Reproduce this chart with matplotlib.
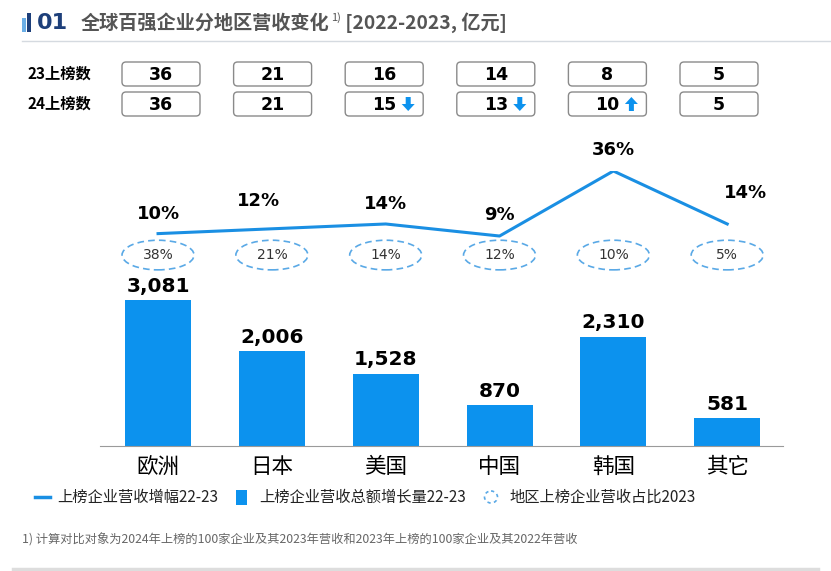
import matplotlib
matplotlib.use('Agg')
import matplotlib.pyplot as plt
from matplotlib.patches import FancyBboxPatch, Ellipse, Rectangle, FancyArrow
from matplotlib.lines import Line2D

plt.rcParams['font.family'] = ['Noto Sans CJK SC', 'DejaVu Sans']

# data
regions = ['欧洲', '日本', '美国', '中国', '韩国', '其它']
count_23 = [36, 21, 16, 14, 8, 5]
count_24 = [36, 21, 15, 13, 10, 5]
growth_pct = [10, 12, 14, 9, 36, 14]          # 上榜企业营收增幅22-23 (%)
revenue_increase = [3081, 2006, 1528, 870, 2310, 581]  # 亿元
share_2023 = [38, 21, 14, 12, 10, 5]           # 地区上榜企业营收占比2023 (%)

W, H = 831, 571
BLUE = '#0c92ee'
LINE_BLUE = '#1a8fe3'
NUM_FONT = 'DejaVu Sans'


def frac(left, top, right, bottom):
	# pixel box (origin top-left) -> figure fraction rect
	return [left / W, 1 - bottom / H, (right - left) / W, (bottom - top) / H]


def draw_header(ax):
	ax.add_patch(Rectangle((22, 18), 4, 14, color='#6aaee6', lw=0))
	ax.add_patch(Rectangle((27, 13), 4, 19, color='#1d3f7a', lw=0))
	ax.text(37, 23, '01', fontsize=16, fontweight='bold', color='#1d3f7a',
		va='center', family=[NUM_FONT])
	t1 = ax.text(81, 23, '全球百强企业分地区营收变化', fontsize=13.8,
		fontweight='bold', color='#555555', va='center')
	sup = ax.annotate('1)', xy=(1, 0.8), xycoords=t1, xytext=(0.8, 0),
		textcoords='offset points', fontsize=8, color='#555555', va='center')
	ax.annotate(' [2022-2023, 亿元]', xy=(1, 0.5), xycoords=(sup, t1),
		xytext=(0, 0), textcoords='offset points', fontsize=13.8,
		fontweight='bold', color='#555555', va='center')
	ax.add_line(Line2D([22, 831], [41, 41], color='#d5dae0', lw=1))


def draw_count_rows(ax):
	rows = [('23上榜数', count_23, 74), ('24上榜数', count_24, 104)]
	for label, counts, cy in rows:
		ax.text(28, cy, label, fontsize=11, fontweight='bold', va='center')
		for i, n in enumerate(counts):
			cx = 161 + 111.6 * i
			ax.add_patch(FancyBboxPatch((cx - 39, cy - 12), 78, 24,
				boxstyle='round,pad=0,rounding_size=4', fc='white',
				ec='#8a8a8a', lw=1))
			ax.text(cx, cy + 1, str(n), fontsize=12.5, fontweight='bold',
				ha='center', va='center', family=[NUM_FONT])
			if label.startswith('24') and n != count_23[i]:
				xa = cx + 24
				if n < count_23[i]:
					ax.add_patch(FancyArrow(xa, cy - 7, 0, 14, width=5,
						head_width=13, head_length=7, length_includes_head=True,
						color=BLUE, lw=0))
				else:
					ax.add_patch(FancyArrow(xa, cy + 7, 0, -14, width=5,
						head_width=13, head_length=7, length_includes_head=True,
						color=BLUE, lw=0))


def draw_legend(ax):
	y = 497
	ax.add_line(Line2D([35, 50], [y, y], color=LINE_BLUE, lw=2.5))
	ax.text(57, y, '上榜企业营收增幅22-23', fontsize=11, va='center', color='#222222')
	ax.add_patch(Rectangle((236, y - 7), 11, 15, color=BLUE, lw=0))
	ax.text(259, y, '上榜企业营收总额增长量22-23', fontsize=11, va='center', color='#222222')
	ax.add_patch(Ellipse((491, y), 13, 12, fill=False, ec='#5aa9e6', lw=1.2,
		ls=(0, (2, 2))))
	ax.text(509, y, '地区上榜企业营收占比2023', fontsize=11, va='center', color='#222222')


def draw_footer(ax):
	ax.text(22, 540, '1) 计算对比对象为2024年上榜的100家企业及其2023年营收和2023年上榜的100家企业及其2022年营收',
		fontsize=8.8, va='center', color='#666666')
	ax.add_line(Line2D([13, 818], [569, 569], color='#dddddd', lw=2.5))


def main():
	fig = plt.figure(figsize=(W / 100, H / 100), dpi=100)
	x = list(range(len(regions)))

	# bars
	ax_bar = fig.add_axes(frac(100, 300, 783, 446))
	bars = ax_bar.bar(x, revenue_increase, width=0.58, color=BLUE)
	ax_bar.bar_label(bars, labels=[f'{v:,}' for v in revenue_increase],
		padding=3, fontsize=14.5, fontweight='bold', family=[NUM_FONT])
	ax_bar.set_xlim(-0.51, 5.49)
	ax_bar.set_ylim(0, max(revenue_increase))
	ax_bar.set_xticks(x)
	ax_bar.set_xticklabels(regions, fontsize=15.5)
	ax_bar.tick_params(axis='x', length=0, pad=7)
	ax_bar.set_yticks([])
	for side in ['top', 'right', 'left']:
		ax_bar.spines[side].set_visible(False)
	ax_bar.spines['bottom'].set_color('#9a9a9a')
	ax_bar.patch.set_alpha(0)

	# growth line + share ellipses
	ax_line = fig.add_axes(frac(100, 171, 783, 257.7))
	ax_line.set_xlim(-0.51, 5.49)
	ax_line.set_ylim(0, 36)
	ax_line.axis('off')
	ax_line.plot(x, growth_pct, color=LINE_BLUE, lw=2.2)
	label_offsets = [(0, 20), (-13, 28), (0, 20), (0, 21), (0, 21), (18, 31)]
	for i, v in enumerate(growth_pct):
		dx, dy = label_offsets[i]
		ax_line.annotate(f'{v}%', (i, v), xytext=(dx, dy),
			textcoords='offset pixels', ha='center', va='center',
			fontsize=13, fontweight='bold', family=[NUM_FONT])
	for i, s in enumerate(share_2023):
		ax_line.add_patch(Ellipse((i, 1.1), 0.633, 12.3, fill=False,
			ec='#5aa9e6', lw=1.2, ls=(0, (4, 2.5)), clip_on=False))
		ax_line.text(i, 1.1, f'{s}%', ha='center', va='center',
			fontsize=10, color='#333333', family=[NUM_FONT])

	# page furniture in pixel coordinates
	ax_px = fig.add_axes([0, 0, 1, 1])
	ax_px.set_xlim(0, W)
	ax_px.set_ylim(H, 0)
	ax_px.axis('off')
	ax_px.patch.set_alpha(0)
	draw_header(ax_px)
	draw_count_rows(ax_px)
	draw_legend(ax_px)
	draw_footer(ax_px)

	fig.savefig('out.png', dpi=100)
	plt.close(fig)


if __name__ == '__main__':
	main()
